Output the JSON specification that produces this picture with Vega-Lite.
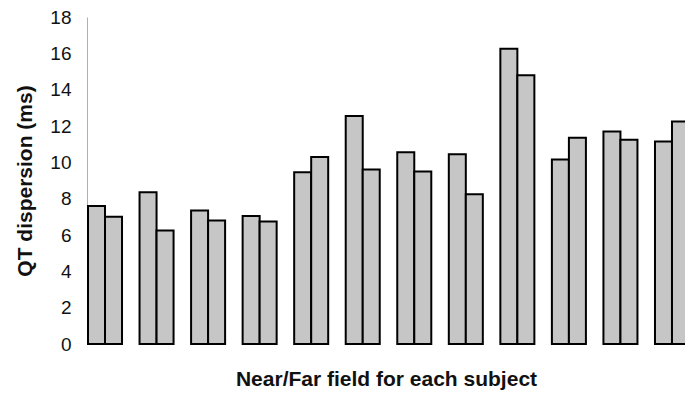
{
  "$schema": "https://vega.github.io/schema/vega-lite/v6.json",
  "autosize": {"type": "none"},
  "padding": {"left": 87, "top": 17, "right": 0, "bottom": 52},
  "width": 598,
  "height": 327,
  "background": "white",
  "config": {
    "view": {"stroke": null},
    "font": "Liberation Sans"
  },
  "data": {
    "values": [
      {"subject": 1, "field": "Near", "qtd": 7.6},
      {"subject": 1, "field": "Far", "qtd": 7.0},
      {"subject": 2, "field": "Near", "qtd": 8.35},
      {"subject": 2, "field": "Far", "qtd": 6.25},
      {"subject": 3, "field": "Near", "qtd": 7.35},
      {"subject": 3, "field": "Far", "qtd": 6.8},
      {"subject": 4, "field": "Near", "qtd": 7.05},
      {"subject": 4, "field": "Far", "qtd": 6.75},
      {"subject": 5, "field": "Near", "qtd": 9.45},
      {"subject": 5, "field": "Far", "qtd": 10.3},
      {"subject": 6, "field": "Near", "qtd": 12.55},
      {"subject": 6, "field": "Far", "qtd": 9.6},
      {"subject": 7, "field": "Near", "qtd": 10.55},
      {"subject": 7, "field": "Far", "qtd": 9.5},
      {"subject": 8, "field": "Near", "qtd": 10.45},
      {"subject": 8, "field": "Far", "qtd": 8.25},
      {"subject": 9, "field": "Near", "qtd": 16.25},
      {"subject": 9, "field": "Far", "qtd": 14.8},
      {"subject": 10, "field": "Near", "qtd": 10.15},
      {"subject": 10, "field": "Far", "qtd": 11.35},
      {"subject": 11, "field": "Near", "qtd": 11.7},
      {"subject": 11, "field": "Far", "qtd": 11.25},
      {"subject": 12, "field": "Near", "qtd": 11.15},
      {"subject": 12, "field": "Far", "qtd": 12.25}
    ]
  },
  "mark": {
    "type": "bar",
    "fill": "#c6c6c6",
    "stroke": "#000000",
    "strokeWidth": 2,
    "cornerRadius": 0
  },
  "encoding": {
    "x": {
      "field": "subject",
      "type": "ordinal",
      "scale": {"range": [1, 602], "paddingInner": 0.34, "paddingOuter": 0},
      "axis": {
        "title": "Near/Far field for each subject",
        "labels": false,
        "ticks": false,
        "domain": false,
        "titleFontSize": 21,
        "titleFontWeight": "bold",
        "titleColor": "#111111",
        "titlePadding": 24,
        "titleX": 299
      }
    },
    "xOffset": {
      "field": "field",
      "type": "nominal",
      "sort": ["Near", "Far"],
      "scale": {"paddingInner": 0, "paddingOuter": 0}
    },
    "y": {
      "field": "qtd",
      "type": "quantitative",
      "scale": {"domain": [0, 18], "nice": false},
      "axis": {
        "title": "QT dispersion (ms)",
        "values": [0, 2, 4, 6, 8, 10, 12, 14, 16, 18],
        "grid": false,
        "ticks": false,
        "domainColor": "#b0b0b0",
        "domainWidth": 1,
        "labelFontSize": 19,
        "labelColor": "#111111",
        "labelPadding": 16,
        "titleFontSize": 21,
        "titleFontWeight": "bold",
        "titleColor": "#111111",
        "titlePadding": 14
      }
    }
  }
}
